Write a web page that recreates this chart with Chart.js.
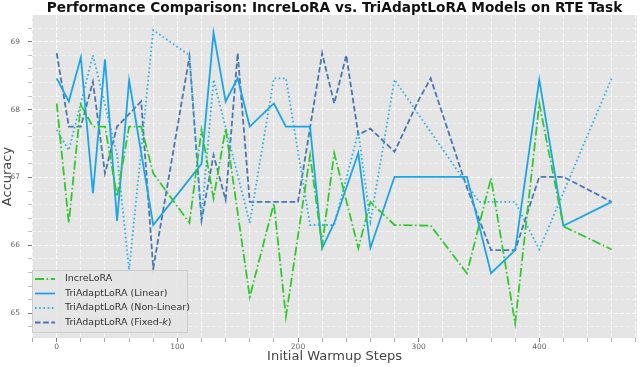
<!DOCTYPE html>
<html><head><meta charset="utf-8">
<script src="https://cdn.jsdelivr.net/npm/chart.js@4.4.0/dist/chart.umd.min.js"></script>
<style>html,body{margin:0;padding:0;background:#fff;}#wrap{width:640px;height:367px;}</style>
</head><body><div id="wrap"><canvas id="c" width="640" height="367"></canvas></div>
<script>
// ---- data ----
const incSteps = [0,10,20,30,40,50,60,70,80,110,120,130,140,160,180,190,210,220,230,250,260,280,310,340,360,380,400,420,460];
const incAcc   = [68.09,66.33,68.07,67.75,67.75,66.72,67.75,67.75,67.06,66.33,67.70,66.69,67.72,65.24,66.62,64.95,67.33,66.00,67.36,65.96,66.64,66.30,66.29,65.59,66.99,64.85,68.09,66.28,65.94];

const linSteps = [0,10,20,30,40,50,60,80,120,130,140,150,160,180,190,210,220,230,250,260,280,340,360,380,400,420,460];
const linAcc   = [68.46,68.12,68.77,66.77,68.74,66.36,68.43,66.30,67.20,69.13,68.12,68.46,67.75,68.09,67.75,67.75,65.96,66.33,67.36,65.96,67.01,67.01,65.59,65.93,68.44,66.29,66.64];

const nonSteps = [0,10,30,50,60,80,110,120,130,160,180,190,210,230,250,260,280,340,350,380,400,460];
const nonAcc   = [67.70,67.40,68.80,67.34,65.64,69.17,68.80,66.40,68.44,66.33,68.46,68.46,66.30,66.30,67.67,66.35,68.44,66.90,66.64,66.64,65.94,68.46];

const fixSteps = [0,10,20,30,40,50,70,80,110,120,130,140,150,160,200,220,230,240,250,260,280,300,310,340,360,380,400,420,460];
const fixAcc   = [68.83,67.75,67.75,68.41,67.06,67.75,68.12,65.66,68.78,66.37,67.33,66.67,68.83,66.64,66.64,68.83,68.09,68.80,67.63,67.72,67.38,68.14,68.46,66.85,65.93,65.93,67.01,67.01,66.64];

const seriesNames = ['IncreLoRA','TriAdaptLoRA (Linear)','TriAdaptLoRA (Non-Linear)','TriAdaptLoRA (Fixed-k)'];
const xTickLabels = [0,100,200,300,400];
const yTickLabels = [65,66,67,68,69];

const FONT = "'DejaVu Sans', sans-serif";
const TITLE = 'Performance Comparison: IncreLoRA vs. TriAdaptLoRA Models on RTE Task';
const pts = (xs, ys) => xs.map((x, i) => ({x: x, y: ys[i]}));

const styles = [
  {color:'#2fc92f', dash:[9,2.6,1.6,2.6]},
  {color:'#1ba5e6', dash:[]},
  {color:'#2cb0e2', dash:[1.6,2.6]},
  {color:'#4878b2', dash:[5.6,2.6]}
];
const allData = [pts(incSteps,incAcc), pts(linSteps,linAcc), pts(nonSteps,nonAcc), pts(fixSteps,fixAcc)];

const datasets = allData.map((d, i) => ({
  label: seriesNames[i], data: d,
  borderColor: styles[i].color, backgroundColor: styles[i].color,
  borderDash: styles[i].dash, borderWidth: 1.8,
  pointRadius: 0, tension: 0, fill: false
}));

const isInt = v => Math.abs(v - Math.round(v)) < 1e-6;

const decor = {
  id: 'decor',
  beforeDraw(chart) {
    const {ctx, chartArea: a} = chart;
    ctx.save();
    ctx.fillStyle = '#e5e5e5';
    ctx.fillRect(a.left, a.top, a.right - a.left, a.bottom - a.top);
    ctx.restore();
  },
  afterDraw(chart) {
    const {ctx, chartArea: a} = chart;
    ctx.save();
    // title, fitted to the width seen in the reference
    ctx.font = "bold 13px " + FONT;
    const tw = ctx.measureText(TITLE).width;
    const ts = Math.min(15, 13 * 576 / tw);
    ctx.font = "bold " + ts.toFixed(2) + "px " + FONT;
    ctx.fillStyle = '#111';
    ctx.textAlign = 'center'; ctx.textBaseline = 'middle';
    ctx.fillText(TITLE, (a.left + a.right) / 2, 8.5);
    // axis titles
    ctx.fillStyle = '#444';
    ctx.font = "13px " + FONT;
    ctx.fillText('Initial Warmup Steps', (a.left + a.right) / 2, 357);
    ctx.save();
    ctx.translate(8, (a.top + a.bottom) / 2);
    ctx.rotate(-Math.PI / 2);
    ctx.fillText('Accuracy', 0, 0);
    ctx.restore();
    // legend
    const lx = 32.5, ly = 270.5, lw = 155, lh = 62;
    ctx.globalAlpha = 0.85;
    ctx.fillStyle = '#e5e5e5';
    ctx.fillRect(lx, ly, lw, lh);
    ctx.globalAlpha = 1;
    ctx.strokeStyle = '#cccccc'; ctx.lineWidth = 1;
    ctx.strokeRect(lx, ly, lw, lh);
    ctx.font = "9.5px " + FONT;
    ctx.textAlign = 'left'; ctx.textBaseline = 'middle';
    for (let i = 0; i < 4; i++) {
      const y = 279 + i * 14.5;
      ctx.strokeStyle = styles[i].color; ctx.lineWidth = 1.8;
      ctx.setLineDash(styles[i].dash);
      ctx.beginPath(); ctx.moveTo(35, y); ctx.lineTo(55, y); ctx.stroke();
      ctx.setLineDash([]);
      ctx.fillStyle = '#333';
      if (i === 3) {
        const base = 'TriAdaptLoRA (Fixed-';
        ctx.fillText(base, 65, y);
        let w = ctx.measureText(base).width;
        ctx.font = "italic 9.5px " + FONT;
        ctx.fillText('k', 65 + w, y);
        w += ctx.measureText('k').width;
        ctx.font = "9.5px " + FONT;
        ctx.fillText(')', 65 + w, y);
      } else {
        ctx.fillText(seriesNames[i], 65, y);
      }
    }
    ctx.restore();
  }
};

function stepTicks(lo, hi, step) {
  const out = [];
  for (let k = Math.round(lo / step); k * step <= hi + 1e-9; k++) out.push({value: +(k * step).toFixed(4)});
  return out;
}

new Chart(document.getElementById('c'), {
  type: 'line',
  data: {datasets},
  plugins: [decor],
  options: {
    responsive: false, animation: false, devicePixelRatio: 1,
    layout: {padding: {left: 0, right: 3, top: 15, bottom: 0}},
    plugins: {legend: {display: false}, title: {display: false}, tooltip: {enabled: false}},
    scales: {
      x: {
        type: 'linear', min: -20.5, max: 481,
        afterBuildTicks: s => { s.ticks = stepTicks(-20, 480, 20); },
        afterFit: s => { s.height = 29; },
        ticks: {autoSkip: false, maxRotation: 0, padding: 1, color: '#666', font: {family: FONT, size: 7.5},
          callback: v => isInt(v) && xTickLabels.includes(Math.round(v)) ? String(Math.round(v)) : ''},
        grid: {color: c => (c.tick && xTickLabels.includes(Math.round(c.tick.value))) ? 'rgba(255,255,255,1)' : 'rgba(255,255,255,0.7)',
          lineWidth: 1, tickLength: 4, tickBorderDash: [],
          tickColor: c => (c.tick && xTickLabels.includes(Math.round(c.tick.value))) ? '#777' : '#aaa'},
        border: {display: false, dash: [4, 2]}
      },
      y: {
        type: 'linear', min: 64.636, max: 69.393,
        afterBuildTicks: s => { s.ticks = stepTicks(64.8, 69.2, 0.2); },
        afterFit: s => { s.width = 32; },
        ticks: {autoSkip: false, padding: 8, color: '#666', font: {family: FONT, size: 7.5},
          callback: v => (isInt(v) && yTickLabels.includes(Math.round(v))) ? String(Math.round(v)) : ''},
        grid: {color: c => (c.tick && isInt(c.tick.value)) ? 'rgba(255,255,255,1)' : 'rgba(255,255,255,0.6)',
          lineWidth: c => (c.tick && isInt(c.tick.value)) ? 1 : 0.8, tickLength: 4, tickBorderDash: [],
          tickColor: c => (c.tick && isInt(c.tick.value)) ? '#777' : '#aaa'},
        border: {display: false, dash: [4, 2]}
      }
    }
  }
});
</script></body></html>
